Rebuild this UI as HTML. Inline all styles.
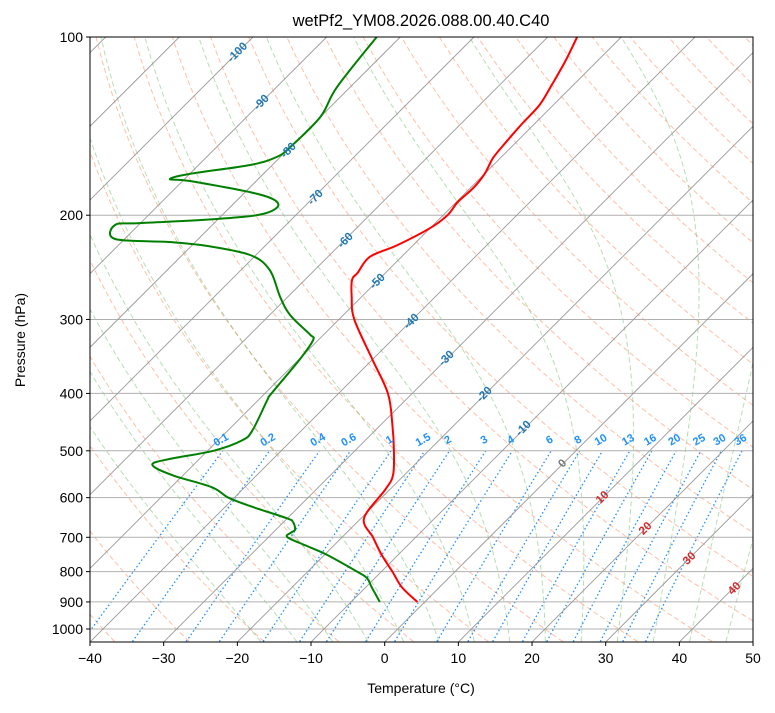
<!DOCTYPE html>
<html><head><meta charset="utf-8"><style>
body{margin:0;background:#fff;}
svg text{font-family:"Liberation Sans","DejaVu Sans",sans-serif;}
</style></head><body>
<svg id="chart" width="775" height="708" xmlns="http://www.w3.org/2000/svg">
<defs><clipPath id="clip"><rect x="90" y="37" width="663" height="605"/></clipPath></defs>
<rect width="775" height="708" fill="#fff"/>
<text x="421" y="26" font-size="16.5" text-anchor="middle">wetPf2_YM08.2026.088.00.40.C40</text>
<g id="bg" clip-path="url(#clip)"></g>
<g id="series" clip-path="url(#clip)"></g>
<g id="labels"></g>
<rect x="90" y="37" width="663" height="605" fill="none" stroke="#000" stroke-width="1"/>
<g id="axes"></g>
<text x="421" y="693" font-size="14" text-anchor="middle">Temperature (°C)</text>
<text x="25" y="340" font-size="14" text-anchor="middle" transform="rotate(-90 25 340)">Pressure (hPa)</text>
</svg>
<script>
const tempP=[900,850,800,750,700,650,582,550,500,450,400,350,300,275,257,250,235,225,210,200,190,180,170,160,150,140,130,120,110,100];
const tempT=[-1.0,-5.1,-8.5,-12.2,-15.8,-19.6,-20.6,-21.5,-24.7,-28.6,-33.3,-40.1,-47.9,-51.3,-53.6,-53.8,-54.3,-52.2,-50.0,-49.4,-49.8,-49.6,-50.0,-51.0,-51.4,-51.7,-51.9,-53.0,-54.3,-56.0];
const dewP=[900,850,820,800,750,724,700,688,680,660,650,620,600,576,550,528,516,500,480,461,410,400,350,325,318,295,275,247.5,233.5,225.4,222,219.4,207.7,206.2,203,199,191.4,184.1,175.1,173.8,170.3,164.5,159.5,153.4,136.5,121.5,100];
const dewT=[-6.1,-9.2,-11.1,-13.3,-19.6,-23.6,-27.4,-27.6,-27.4,-28.7,-30.1,-36.7,-40.8,-44.5,-51.4,-55.6,-54.0,-49.2,-46.7,-46.7,-48.8,-49.1,-49.9,-50.7,-51.9,-57.2,-61.0,-66.1,-70.8,-77.9,-83.4,-91.3,-93.2,-90.1,-80.2,-74.6,-73.9,-78.1,-89.0,-92.0,-90.0,-83.0,-80.5,-80.0,-80.0,-81.8,-83.2];
const pTicks=[100,200,300,400,500,600,700,800,900,1000];
const tTicks=[-40,-30,-20,-10,0,10,20,30,40,50];
const mixVals=[0.1,0.2,0.4,0.6,1,1.5,2,3,4,6,8,10,13,16,20,25,30,36];
const isoLabelVals=[-100,-90,-80,-70,-60,-50,-40,-30,-20,-10,0,10,20,30,40];

const NS='http://www.w3.org/2000/svg';
function yOf(p){return 37+592*Math.log10(p/100);}
function xOf(T,p){return 90+(T+40)*7.367+(642-yOf(p));}
function mk(tag,attrs,parent){const e=document.createElementNS(NS,tag);for(const k in attrs)e.setAttribute(k,attrs[k]);parent.appendChild(e);return e;}
const bg=document.getElementById('bg'),ser=document.getElementById('series'),lab=document.getElementById('labels'),ax=document.getElementById('axes');
function poly(ps,ts,attrs,parent,name){const pts=ps.map((p,i)=>xOf(ts[i],p).toFixed(1)+','+yOf(p).toFixed(1)).join(' ');const e=mk('polyline',Object.assign({points:pts,fill:'none'},attrs),parent);return e;}
function smooth(ps,ts,attrs,parent,name){
 const P=ps.map((p,i)=>[xOf(ts[i],p),yOf(p)]);
 let d='M'+P[0][0].toFixed(1)+','+P[0][1].toFixed(1);
 for(let i=0;i<P.length-1;i++){const p0=P[Math.max(0,i-1)],p1=P[i],p2=P[i+1],p3=P[Math.min(P.length-1,i+2)];
  const c1=[p1[0]+(p2[0]-p0[0])/6,p1[1]+(p2[1]-p0[1])/6],c2=[p2[0]-(p3[0]-p1[0])/6,p2[1]-(p3[1]-p1[1])/6];
  d+=` C${c1[0].toFixed(1)},${c1[1].toFixed(1)} ${c2[0].toFixed(1)},${c2[1].toFixed(1)} ${p2[0].toFixed(1)},${p2[1].toFixed(1)}`;}
 const e=mk('path',Object.assign({d:d,fill:'none'},attrs),parent);return e;}
const plevs=[];for(let p=1050;p>=99;p-=10)plevs.push(p);
// dry adiabats
for(let t0=-40;t0<=200;t0+=10){const th=t0+273.15;const ts=plevs.map(p=>th*Math.pow(p/1000,0.2857)-273.15);poly(plevs,ts,{stroke:'#ff7f50','stroke-width':1,'stroke-dasharray':'5,3',opacity:0.5},bg,'dry-adiabat');}
// moist adiabats
function es(T){return 6.112*Math.exp(17.67*T/(T+243.5));}
function dTdp(T,p){const Tk=T+273.15;const rs=0.622*es(T)/(p-es(T));const Lv=2.501e6,Rd=287,cp=1005;return (Rd*Tk+Lv*rs)/(p*(cp+Lv*Lv*rs*0.622/(Rd*Tk*Tk)));}
for(let t0=-20;t0<=45;t0+=5){const ps=[],ts=[];let T=t0,p;
 let Td=t0;for(let q=1000;q<1050;q+=5){Td+=dTdp(Td,q)*5;}
 ps.push(1050);ts.push(Td);
 for(p=1000;p>=100;p-=5){ps.push(p);ts.push(T);T-=dTdp(T,p)*5;}
 poly(ps,ts,{stroke:'#2ca02c','stroke-width':1,'stroke-dasharray':'5,3',opacity:0.35},bg,'moist-adiabat');}
// mixing ratio lines
const mp=[];for(let p=1050;p>=500;p-=10)mp.push(p);
function tdOf(w,p){const e=w*p/(622+w);const l=Math.log(e/6.112);return 243.5*l/(17.67-l);}
mixVals.forEach(w=>{poly(mp,mp.map(p=>tdOf(w,p)),{stroke:'#1e90ff','stroke-width':1.3,'stroke-dasharray':'1.5,2.5'},bg,'mixing-ratio-line');
 const x=xOf(tdOf(w,500),500),y=yOf(500)-8;const t=mk('text',{x:x,y:y,'font-size':11,'font-weight':'bold',fill:'#1e90ff','text-anchor':'middle',transform:`rotate(-30 ${x} ${y})`},lab);t.textContent=String(w);
 });
// horizontal grid
pTicks.forEach(p=>{const y=yOf(p);const l=mk('line',{x1:90,x2:753,y1:y,y2:y,stroke:'#b0b0b0','stroke-width':1},bg);});
// isotherms
for(let T=-200;T<=50;T+=10){const l=mk('line',{x1:xOf(T,1050),y1:yOf(1050),x2:xOf(T,100),y2:yOf(100),stroke:'#999','stroke-width':0.9},bg);}
// isotherm labels
const isoPos=[[237,52],[261,102],[288,150],[315,197],[345,240],[377,281],[411,321],[446,358],[484,394],[523,428],[562,463],[602,497],[645,528],[689,558],[734,588]];
isoLabelVals.forEach((v,i)=>{const [x,y]=isoPos[i];const c=v<0?'#1f77b4':(v===0?'#777':'#d62728');const t=mk('text',{x:x,y:y+4,'font-size':11.5,'font-weight':'bold',fill:c,'text-anchor':'middle',transform:`rotate(-45 ${x} ${y})`},lab);t.textContent=String(v);});
// series
smooth(dewP,dewT,{stroke:'#008000','stroke-width':2,'stroke-linejoin':'round'},ser,'dewpoint-line');
smooth(tempP,tempT,{stroke:'#ff0000','stroke-width':2,'stroke-linejoin':'round'},ser,'temperature-line');
// axes ticks
pTicks.forEach(p=>{const y=yOf(p);mk('line',{x1:86,x2:90,y1:y,y2:y,stroke:'#000'},ax);const t=mk('text',{x:83,y:y+5,'font-size':14,'text-anchor':'end'},ax);t.textContent=p;});
tTicks.forEach(T=>{const x=90+(T+40)*7.367;mk('line',{x1:x,x2:x,y1:642,y2:646,stroke:'#000'},ax);const t=mk('text',{x:x,y:663,'font-size':14,'text-anchor':'middle'},ax);t.textContent=(T<0?'\u2212'+(-T):T);});
</script>
</body></html>
